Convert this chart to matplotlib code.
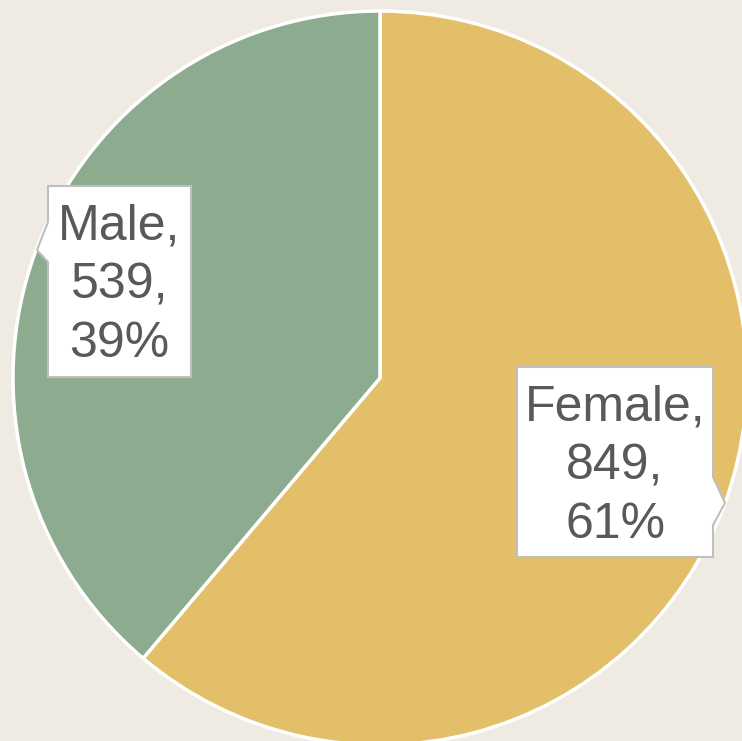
import matplotlib.pyplot as plt
from matplotlib.patches import Polygon

# data
categories = ['Female', 'Male']
counts = [849, 539]
colors = ['#E4BF6A', '#8DAB8E']

W, H = 742, 741
bg = '#EFEBE3'

fig = plt.figure(figsize=(W / 100, H / 100), dpi=100, facecolor=bg)
ax = fig.add_axes([0, 0, 1, 1])
ax.set_facecolor(bg)

cx, cy, r = 380, H - 378, 367
wedges, _ = ax.pie(counts, colors=colors, startangle=90, counterclock=False,
                   center=(cx, cy), radius=r, frame=True,
                   wedgeprops=dict(edgecolor='white', linewidth=2.5))
ax.set_xlim(0, W)
ax.set_ylim(0, H)
ax.set_aspect('equal')
ax.axis('off')

total = sum(counts)


def callout(left, top, right, bottom, side, p0, p1, tip):
    # box in pixel coords (top-down), pointer on given side
    t, b = H - top, H - bottom
    if side == 'left':
        pts = [(left, t), (right, t), (right, b), (left, b),
               (left, H - p1), (tip[0], H - tip[1]), (left, H - p0)]
    else:
        pts = [(left, t), (right, t), (right, H - p0), (tip[0], H - tip[1]),
               (right, H - p1), (right, b), (left, b)]
    ax.add_patch(Polygon(pts, closed=True, facecolor='white',
                         edgecolor='#BFBFBF', linewidth=1.5, zorder=5))


boxes = {
    'Female': dict(left=517, top=367, right=713, bottom=557, side='right',
                   p0=477, p1=525, tip=(725, 503)),
    'Male': dict(left=48, top=186, right=191, bottom=377, side='left',
                 p0=222, p1=262, tip=(37, 250)),
}

for cat, val in zip(categories, counts):
    bx = boxes[cat]
    callout(**bx)
    pct = round(val / total * 100)
    ax.text((bx['left'] + bx['right']) / 2, H - (bx['top'] + bx['bottom']) / 2 - 4,
            f'{cat},\n{val},\n{pct}%', ha='center', va='center',
            fontsize=36, family='Liberation Sans', color='#595959',
            linespacing=1.36, zorder=6)

fig.savefig('out.png', dpi=100, facecolor=bg)
